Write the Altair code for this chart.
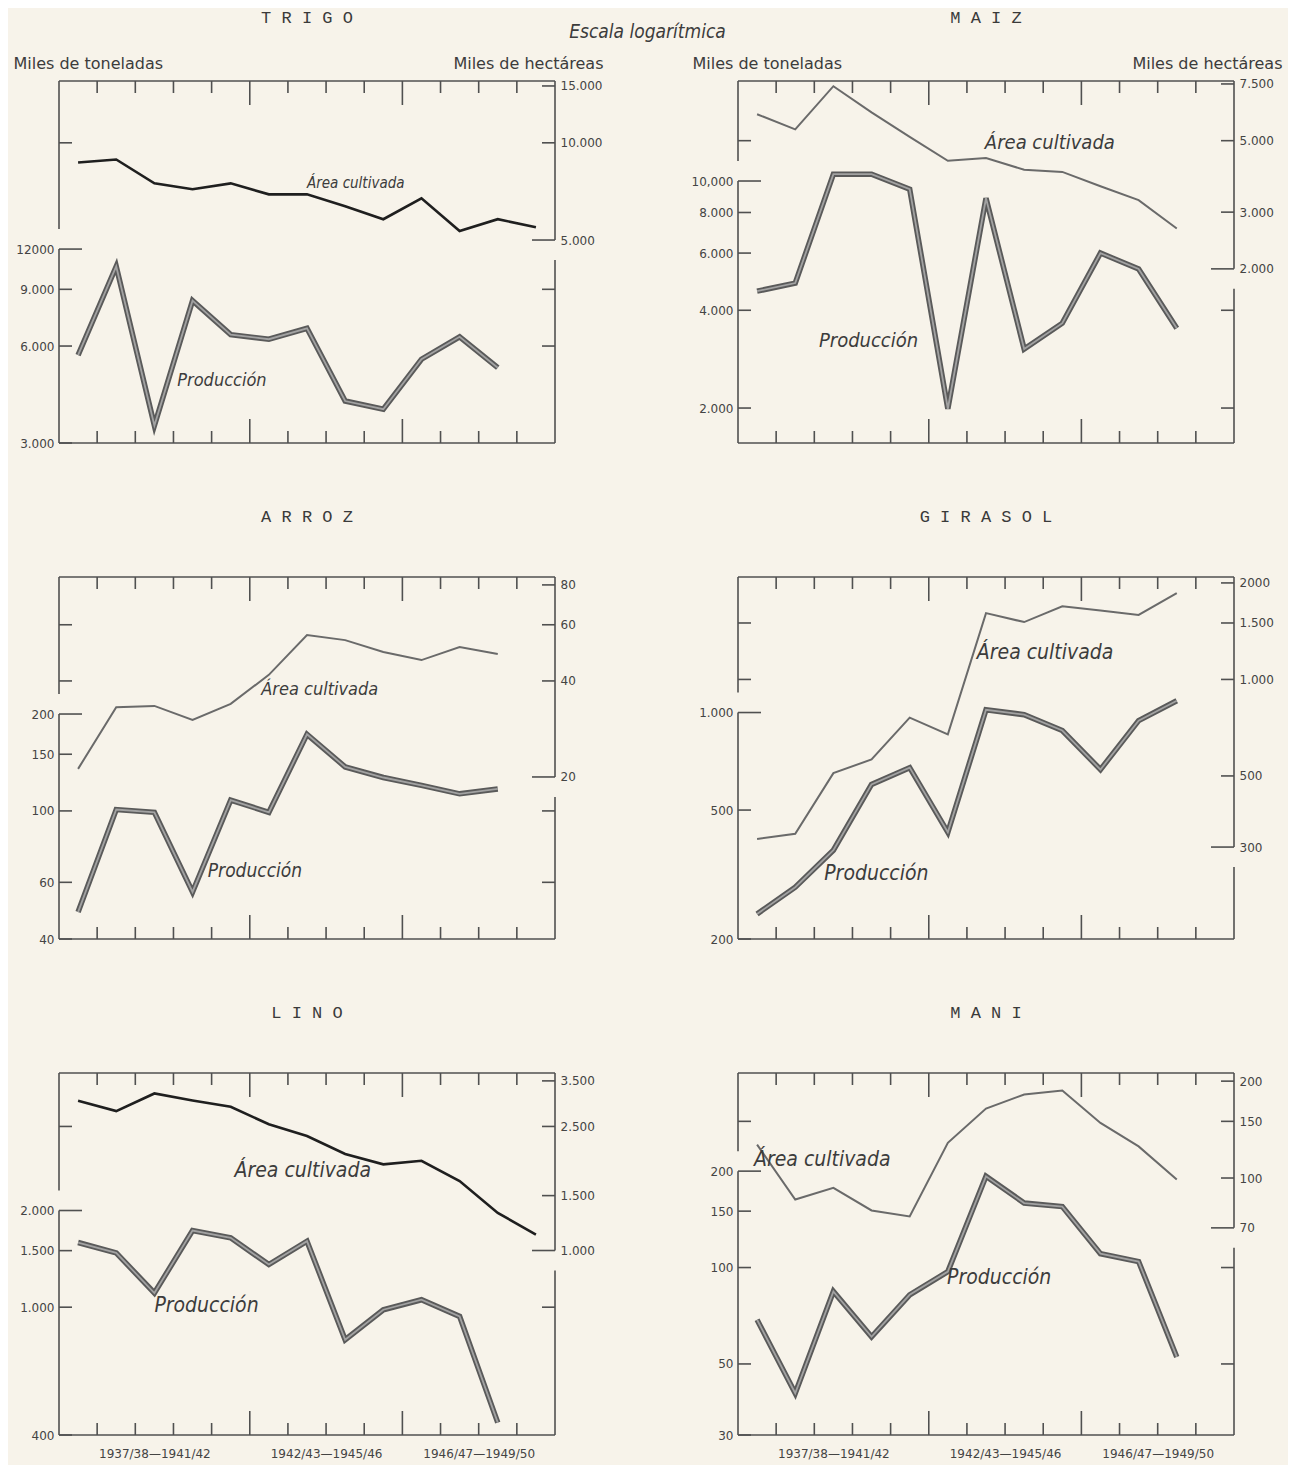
import altair as alt
import pandas as pd

# ---------------- data ----------------
YEARS = ["1937/38", "1938/39", "1939/40", "1940/41", "1941/42", "1942/43", "1943/44",
         "1944/45", "1945/46", "1946/47", "1947/48", "1948/49", "1949/50"]

TRIGO_AREA = [8690, 8880, 7490, 7180, 7490, 6925, 6925, 6360, 5800, 6730, 5330, 5800, 5480]
TRIGO_PROD = [5620, 10600, 3400, 8300, 6510, 6300, 6810, 4050, 3820, 5460, 6410, 5140]

MAIZ_AREA = [6040, 5420, 7380, 6120, 5140, 4330, 4420, 4060, 4000, 3610, 3270, 2670]
MAIZ_PROD = [4580, 4850, 10500, 10500, 9440, 1990, 8850, 3040, 3650, 6000, 5360, 3520]

ARROZ_AREA = [21.2, 33.1, 33.4, 30.2, 33.9, 41.8, 55.7, 53.7, 49.3, 46.5, 51.1, 48.6]
ARROZ_PROD = [48.5, 101, 99, 56, 108, 99, 173, 137, 127, 120, 113, 117]

GIRASOL_AREA = [318, 330, 510, 563, 760, 674, 1610, 1510, 1690, 1640, 1590, 1860]
GIRASOL_PROD = [239, 289, 376, 600, 676, 427, 1020, 985, 880, 667, 944, 1087]

LINO_AREA = [3020, 2800, 3190, 3030, 2890, 2540, 2330, 2040, 1890, 1940, 1670, 1320, 1125]
LINO_PROD = [1590, 1476, 1107, 1733, 1644, 1358, 1605, 792, 982, 1055, 936, 437]

MANI_AREA = [127, 85.7, 93.2, 79.3, 76, 128.7, 164.4, 181.8, 187, 148.3, 125.4, 98.9]
MANI_PROD = [68.7, 40.5, 84.2, 60.8, 82.2, 97.1, 192.7, 159, 155, 110.5, 104.4, 52.6]

PERIOD_CENTERS = [2.5, 7, 11]
PERIOD_LABELS = ["1937/38\u20141941/42", "1942/43\u20141945/46", "1946/47\u20141949/50"]

# ---------------- panel configuration ----------------
PANELS = [
    dict(name="T R I G O", area=TRIGO_AREA, prod=TRIGO_PROD,
         pdom=[3000, 39900], adom=[1176, 15540],
         lt=[3000, 6000, 9000, 12000], ll=["3.000", "6.000", "9.000", "12000"],
         rt=[5000, 10000, 15000], rl=["5.000", "10.000", "15.000"],
         lmir=[10000], rmir=[9000, 6000],
         alab=(6.5, 7500), plab=(3.1, 4670), afs=15, pfs=18, acol="#1f1f1f", aw=2.6),
    dict(name="M A I Z", area=MAIZ_AREA, prod=MAIZ_PROD,
         pdom=[1561, 20320], adom=[576, 7660],
         lt=[2000, 4000, 6000, 8000, 10000], ll=["2.000", "4.000", "6.000", "8.000", "10,000"],
         rt=[2000, 3000, 5000, 7500], rl=["2.000", "3.000", "5.000", "7.500"],
         lmir=[5000], rmir=[4000, 2000],
         alab=(6.47, 4920), plab=(2.12, 3210), afs=20, pfs=20, acol="#6a6a6a", aw=2.0),
    dict(name="A R R O Z", area=ARROZ_AREA, prod=ARROZ_PROD,
         pdom=[40, 533], adom=[6.21, 84.7],
         lt=[40, 60, 100, 150, 200], ll=["40", "60", "100", "150", "200"],
         rt=[20, 40, 60, 80], rl=["20", "40", "60", "80"],
         lmir=[60, 40], rmir=[100, 60],
         alab=(5.3, 37.5), plab=(3.9, 65), afs=18, pfs=19, acol="#6a6a6a", aw=2.0),
    dict(name="G I R A S O L", area=GIRASOL_AREA, prod=GIRASOL_PROD,
         pdom=[200, 2620], adom=[155, 2087],
         lt=[200, 500, 1000], ll=["200", "500", "1.000"],
         rt=[300, 500, 1000, 1500, 2000], rl=["300", "500", "1.000", "1.500", "2000"],
         lmir=[1500, 1000], rmir=[],
         alab=(6.26, 1210), plab=(2.26, 317), afs=21, pfs=21, acol="#6a6a6a", aw=2.0),
    dict(name="L I N O", area=LINO_AREA, prod=LINO_PROD,
         pdom=[400, 5360], adom=[256, 3710],
         lt=[400, 1000, 1500, 2000], ll=["400", "1.000", "1.500", "2.000"],
         rt=[1000, 1500, 2500, 3500], rl=["1.000", "1.500", "2.500", "3.500"],
         lmir=[2500], rmir=[1000],
         alab=(4.6, 1795), plab=(2.5, 1010), afs=21, pfs=21, acol="#1f1f1f", aw=2.6),
    dict(name="M A N I", area=MANI_AREA, prod=MANI_PROD,
         pdom=[30, 405], adom=[15.9, 212],
         lt=[30, 50, 100, 150, 200], ll=["30", "50", "100", "150", "200"],
         rt=[70, 100, 150, 200], rl=["70", "100", "150", "200"],
         lmir=[150], rmir=[100, 50],
         alab=(0.42, 114), plab=(5.48, 92.7), afs=21, pfs=21, acol="#6a6a6a", aw=2.0),
]

# ---------------- style ----------------
W, H = 496, 362
BG = "#f7f3ea"
INK = "#3c3c3c"
FRAME = "#505050"
FONT = "DejaVu Sans"
NARROW = "Liberation Sans Narrow, DejaVu Sans Condensed, DejaVu Sans"
MONO = "Liberation Mono"
SHORT_T, LONG_T, GAP = 13, 23, 20
BOUNDS = list(range(1, 13))
LONG_BOUNDS = [5, 9]
SHORT_BOUNDS = [b for b in BOUNDS if b not in LONG_BOUNDS]


def label_expr(vals, labels):
    expr = "''"
    for v, l in reversed(list(zip(vals, labels))):
        expr = f"datum.value == {v} ? '{l}' : ({expr})"
    return expr


def panel(cfg, top_row, bottom_row):
    xs = alt.Scale(domain=[0, 13], nice=False, zero=False)
    ysp = alt.Scale(type="log", domain=cfg["pdom"], nice=False)
    ysa = alt.Scale(type="log", domain=cfg["adom"], nice=False)

    lt, rt = cfg["lt"], cfg["rt"]
    left_kw = dict(values=lt, labelExpr=label_expr(lt, cfg["ll"]), ticks=False, domain=False,
                   grid=False, labelPadding=5, labelFont=FONT, labelFontSize=12,
                   labelColor="#444444", labelOverlap=False, labelFlush=False, orient="left")
    right_kw = dict(values=rt, labelExpr=label_expr(rt, cfg["rl"]), ticks=False, domain=False,
                    grid=False, labelPadding=5, labelFont=FONT, labelFontSize=12,
                    labelColor="#444444", labelOverlap=False, labelFlush=False, orient="right")
    if top_row:
        left_axis = alt.Axis(title="Miles de toneladas", titleAngle=0, titleAlign="left",
                             titleBaseline="bottom", titleX=-46, titleY=-10, titleFont=FONT,
                             titleFontSize=16, titleFontWeight="normal", titleColor=INK, **left_kw)
        right_axis = alt.Axis(title="Miles de hectáreas", titleAngle=0, titleAlign="right",
                              titleBaseline="bottom", titleX=48, titleY=-10, titleFont=FONT,
                              titleFontSize=16, titleFontWeight="normal", titleColor=INK, **right_kw)
    else:
        left_axis = alt.Axis(title=None, **left_kw)
        right_axis = alt.Axis(title=None, **right_kw)

    if bottom_row:
        x_axis = alt.Axis(values=PERIOD_CENTERS, labelExpr=label_expr(PERIOD_CENTERS, PERIOD_LABELS),
                          ticks=False, domain=False, grid=False, labelPadding=13, labelFont=FONT,
                          labelFontSize=12, labelColor="#444444", title=None, labelOverlap=False,
                          labelFlush=False, orient="bottom")
    else:
        x_axis = None

    def X(field="x"):
        return alt.X(f"{field}:Q", scale=xs, axis=x_axis)

    def YP(field):
        return alt.Y(f"{field}:Q", scale=ysp, axis=left_axis)

    def YA(field):
        return alt.Y(f"{field}:Q", scale=ysa, axis=right_axis)

    def hrules(values, yenc, x0, x1):
        return alt.Chart(pd.DataFrame({"t": values})).mark_rule(color=FRAME, strokeWidth=1.6).encode(
            y=yenc("t"), x=alt.value(x0), x2=alt.value(x1))

    def vseg(value, yenc, xpix, y2pix, offset):
        return alt.Chart(pd.DataFrame({"t": [value]})).mark_rule(
            color=FRAME, strokeWidth=1.6, yOffset=offset).encode(
            y=yenc("t"), y2=alt.value(y2pix), x=alt.value(xpix))

    dp = pd.DataFrame({"x": [i + 0.5 for i in range(len(cfg["prod"]))], "v": cfg["prod"],
                       "year": YEARS[:len(cfg["prod"])]})
    da = pd.DataFrame({"x": [i + 0.5 for i in range(len(cfg["area"]))], "v": cfg["area"],
                       "year": YEARS[:len(cfg["area"])]})

    # ---- production (left scale) ----
    p_layers = [
        alt.Chart(dp).mark_line(color="#5a5a5a", strokeWidth=5.5).encode(x=X(), y=YP("v")),
        alt.Chart(dp).mark_line(color="#a2a2a2", strokeWidth=1.8).encode(x=X(), y=YP("v")),
        hrules(lt[:-1], YP, 0, SHORT_T),
        hrules(lt[-1:], YP, 0, LONG_T),
        vseg(lt[-1], YP, 0, H, 0),
        vseg(lt[-1], YP, 0, 0, -GAP),
    ]
    if cfg["rmir"]:
        p_layers.append(hrules(cfg["rmir"], YP, W - SHORT_T, W))
    p_layers.append(alt.Chart(pd.DataFrame({"x": [cfg["plab"][0]], "v": [cfg["plab"][1]],
                                            "t": ["Producción"]})).mark_text(
        align="left", baseline="middle", font=NARROW, fontSize=cfg["pfs"], fontStyle="italic",
        color=INK).encode(x=X(), y=YP("v"), text="t:N"))
    prod_layer = alt.layer(*p_layers)

    # ---- cultivated area (right scale) ----
    a_layers = [
        alt.Chart(da).mark_line(color=cfg["acol"], strokeWidth=cfg["aw"]).encode(x=X(), y=YA("v")),
        hrules(rt[1:], YA, W - SHORT_T, W),
        hrules(rt[:1], YA, W - LONG_T, W),
        vseg(rt[0], YA, W, 0, 0),
        vseg(rt[0], YA, W, H, GAP),
    ]
    if cfg["lmir"]:
        a_layers.append(hrules(cfg["lmir"], YA, 0, SHORT_T))
    a_layers.append(alt.Chart(pd.DataFrame({"x": [cfg["alab"][0]], "v": [cfg["alab"][1]],
                                            "t": ["Área cultivada"]})).mark_text(
        align="left", baseline="middle", font=NARROW, fontSize=cfg["afs"], fontStyle="italic",
        color=INK).encode(x=X(), y=YA("v"), text="t:N"))

    # frame top/bottom lines and year ticks
    one = pd.DataFrame({"k": [0]})
    a_layers.append(alt.Chart(one).mark_rule(color=FRAME, strokeWidth=1.6).encode(
        x=alt.value(0), x2=alt.value(W), y=alt.value(0)))
    a_layers.append(alt.Chart(one).mark_rule(color=FRAME, strokeWidth=1.6).encode(
        x=alt.value(0), x2=alt.value(W), y=alt.value(H)))
    for bset, ln in ((SHORT_BOUNDS, 12), (LONG_BOUNDS, 24)):
        dfb = pd.DataFrame({"x": bset})
        a_layers.append(alt.Chart(dfb).mark_rule(color=FRAME, strokeWidth=1.6).encode(
            x=X(), y=alt.value(0), y2=alt.value(ln)))
        a_layers.append(alt.Chart(dfb).mark_rule(color=FRAME, strokeWidth=1.6).encode(
            x=X(), y=alt.value(H), y2=alt.value(H - ln)))
    area_layer = alt.layer(*a_layers)

    return alt.layer(prod_layer, area_layer).resolve_scale(y="independent").properties(
        width=W, height=H,
        title=alt.TitleParams(cfg["name"], font=MONO, fontSize=17, fontWeight="normal",
                              color="#3a3a3a", anchor="middle", frame="group",
                              offset=28 if top_row else 50))


charts = []
for i, cfg in enumerate(PANELS):
    charts.append(panel(cfg, top_row=(i < 2), bottom_row=(i >= 4)))

chart = alt.concat(*charts, columns=2, bounds="flush",
                   spacing={"row": 134, "column": 183}).properties(
    title=alt.TitleParams("Escala logarítmica", font=NARROW, fontSize=19, fontStyle="italic",
                          fontWeight="normal", color=INK, anchor="middle", offset=-33),
    background=BG,
    padding={"left": 4, "top": 0, "right": 5, "bottom": 5},
).configure_view(stroke="transparent")

chart.save("out.html", embed_options={"renderer": "svg", "actions": False})
